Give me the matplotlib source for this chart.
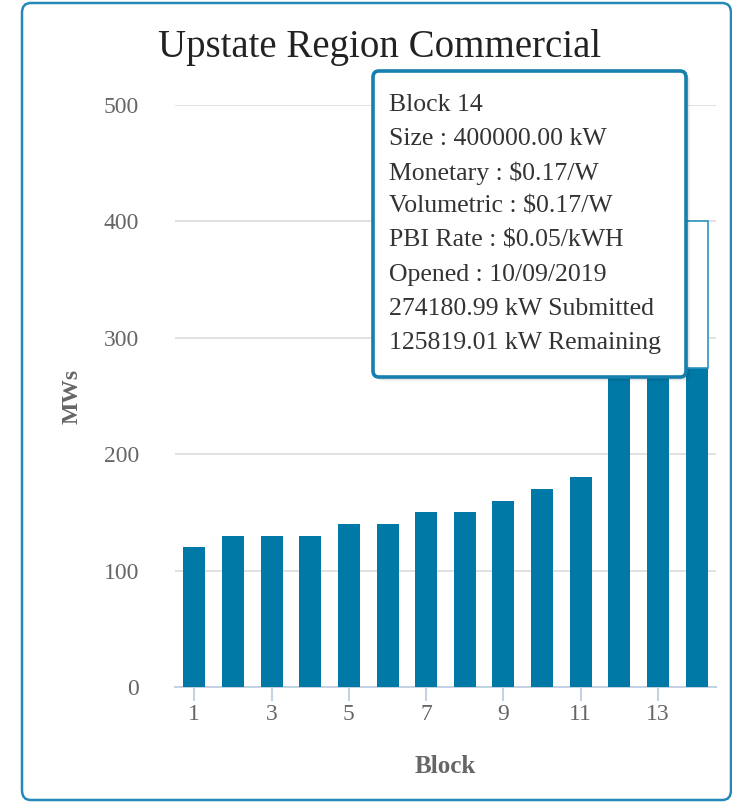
#!/usr/bin/env python3

import matplotlib.pyplot as plt
from matplotlib.patches import FancyBboxPatch
import numpy as np

blocks = list(range(1, 15))
# MW per block (submitted part); blocks 12-13 are partly hidden by the tooltip
submitted = [120, 130, 130, 130, 140, 140, 150, 150, 160, 170, 180, 300, 300, 274.18]
remaining = [0, 0, 0, 0, 0, 0, 0, 0, 0, 0, 0, 0, 0, 125.82]
tick_blocks = [1, 3, 5, 7, 9, 11, 13]
y_ticks = [0, 100, 200, 300, 400, 500]

title = "Upstate Region Commercial"
tooltip_lines = [
    "Block 14",
    "Size : 400000.00 kW",
    "Monetary : $0.17/W",
    "Volumetric : $0.17/W",
    "PBI Rate : $0.05/kWH",
    "Opened : 10/09/2019",
    "274180.99 kW Submitted",
    "125819.01 kW Remaining",
]

BLUE = "#0079a6"
FRAME = "#2489b8"
GREY = "#666666"

plt.rcParams["font.family"] = ["Liberation Serif", "DejaVu Serif"]

fig = plt.figure(figsize=(7.32, 8.08), dpi=100)
W, H = 732, 808

# outer rounded frame
frame = FancyBboxPatch((22 / W, 8 / H), 709 / W, 797 / H,
                       boxstyle="round,pad=0,rounding_size=0.012",
                       transform=fig.transFigure, fill=False,
                       edgecolor=FRAME, linewidth=1.8, zorder=0)
fig.patches.append(frame)

ax = fig.add_axes([175 / W, (808 - 687) / H, 541 / W, 582 / H])
x = np.array(blocks)
ax.bar(x, submitted, width=0.57, color=BLUE, zorder=3)
sub = np.array(submitted)
rem = np.array(remaining)
mask = rem > 0
ax.bar(x[mask], rem[mask], bottom=sub[mask], width=0.57, color="white",
       edgecolor="#2f93c0", linewidth=1.2, zorder=3)

ax.set_xlim(0.5, 14.5)
ax.set_ylim(0, 500)
ax.set_xticks(tick_blocks)
ax.set_xticklabels([str(b) for b in tick_blocks])
ax.set_yticks(y_ticks)
ax.yaxis.grid(True, color="#dcdcdc", linewidth=1.2, zorder=0)
ax.set_axisbelow(True)
for s in ["top", "right", "left"]:
    ax.spines[s].set_visible(False)
ax.spines["bottom"].set_color("#c4d3e3")
ax.spines["bottom"].set_linewidth(1.5)
ax.tick_params(axis="x", length=10, width=1.5, color="#c4d3e3",
               labelsize=17, labelcolor=GREY, pad=2)
ax.tick_params(axis="y", length=0, labelsize=17, labelcolor=GREY, pad=26)

ax.set_ylabel("MWs", fontsize=17, fontweight="bold", color=GREY, labelpad=15)
ax.set_xlabel("Block", fontsize=18, fontweight="bold", color=GREY, labelpad=22)

fig.text(380 / W, 1 - 47 / H, title, ha="center", va="center",
         fontsize=28, color="#222222")

# tooltip box with a soft shadow
bx, by, bw, bh = 373 / W, 1 - 377 / H, 313 / W, 306 / H
for i, a in enumerate([0.10, 0.07, 0.04]):
    sh = FancyBboxPatch((bx + (i + 1) * 1.5 / W, by - (i + 1) * 1.5 / H), bw, bh,
                        boxstyle="round,pad=0,rounding_size=0.008",
                        transform=fig.transFigure, facecolor="black",
                        edgecolor="none", alpha=a, zorder=9)
    fig.patches.append(sh)
tip = FancyBboxPatch((bx, by), bw, bh,
                     boxstyle="round,pad=0,rounding_size=0.008",
                     transform=fig.transFigure, facecolor="white",
                     edgecolor="#1580ad", linewidth=2.6, zorder=10)
fig.patches.append(tip)
for i, line in enumerate(tooltip_lines):
    fig.text(389 / W, 1 - (105 + i * 34) / H, line, ha="left", va="center",
             fontsize=18.5, color="#333333", zorder=11)

fig.savefig("out.png", dpi=100)
